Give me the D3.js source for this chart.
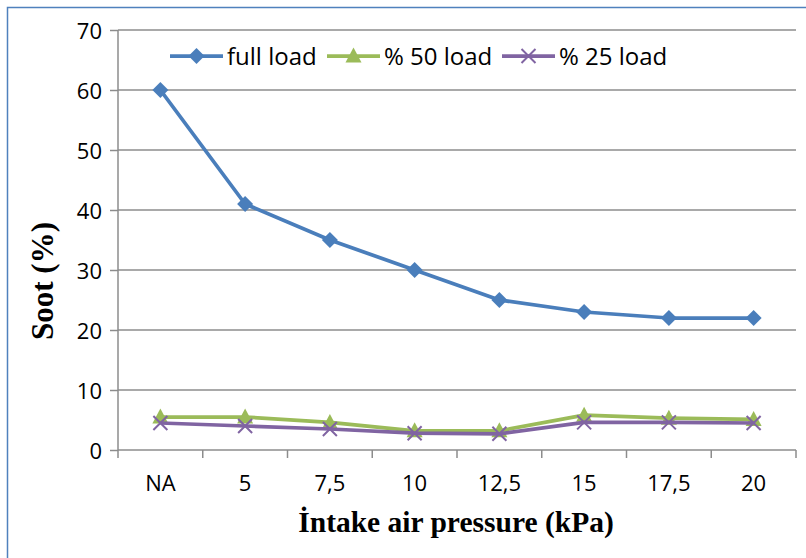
<!DOCTYPE html>
<html>
<head>
<meta charset="utf-8">
<script src="https://cdn.jsdelivr.net/npm/d3@7"></script>
<style>
  html, body { margin: 0; padding: 0; background: #fff; }
  svg { display: block; }
</style>
</head>
<body>
<svg id="chart" width="806" height="558"></svg>
<script>
// Intake air pressure categories and soot readings for each engine load
const categories = ["NA", "5", "7,5", "10", "12,5", "15", "17,5", "20"];
const fullLoad   = [60, 41, 35, 30, 25, 23, 22, 22];
const load50     = [5.5, 5.5, 4.6, 3.2, 3.2, 5.8, 5.3, 5.1];
const load25     = [4.5, 4.0, 3.5, 2.8, 2.7, 4.6, 4.6, 4.5];
const yTicks     = [0, 10, 20, 30, 40, 50, 60, 70];

const series = [
  { name: "full load", values: fullLoad, color: "#4a7ebb", marker: "diamond" },
  { name: "% 50 load", values: load50,   color: "#9bbb59", marker: "triangle" },
  { name: "% 25 load", values: load25,   color: "#8064a2", marker: "cross" }
];

const sans = "'Open Sans', 'Liberation Sans', sans-serif";
const serif = "'Liberation Serif', 'Times New Roman', serif";
const svg = d3.select("#chart");

// Frame around the chart area
svg.append("path")
  .attr("d", "M7.5,558 V7.5 H806")
  .attr("fill", "none")
  .attr("stroke", "#4f81bd")
  .attr("stroke-width", 1.5);

const x = d3.scaleBand().domain(categories).range([118, 796]);
const y = d3.scaleLinear().domain([0, 70]).range([450, 30]);

// Horizontal gridlines
svg.append("g").selectAll("line")
  .data(yTicks.filter(d => d > 0))
  .join("line")
  .attr("x1", 118).attr("x2", 796)
  .attr("y1", d => y(d)).attr("y2", d => y(d))
  .attr("stroke", "#8c8c8c").attr("stroke-width", 1.5);

// Y axis
const yAxis = svg.append("g")
  .attr("transform", "translate(118,0)")
  .call(d3.axisLeft(y).tickValues(yTicks).tickSize(8).tickPadding(8).tickFormat(d3.format("d")));
yAxis.selectAll("path, line").attr("stroke", "#8c8c8c").attr("stroke-width", 1.5);
yAxis.select(".domain").attr("d", "M0,450V30");
yAxis.selectAll("text")
  .attr("font-family", sans)
  .attr("font-size", 22).attr("fill", "#000").attr("dy", "0.4em");

// X axis with ticks at category boundaries
const xAxis = svg.append("g").attr("transform", "translate(0,450)");
xAxis.append("line").attr("x1", 118).attr("x2", 796)
  .attr("stroke", "#8c8c8c").attr("stroke-width", 1.5);
const bounds = categories.map(c => x(c)).concat([x.range()[1]]);
xAxis.selectAll(".tk").data(bounds).join("line")
  .attr("class", "tk")
  .attr("x1", d => d).attr("x2", d => d)
  .attr("y1", 0).attr("y2", 8)
  .attr("stroke", "#8c8c8c").attr("stroke-width", 1.5);
xAxis.selectAll("text").data(categories).join("text")
  .attr("x", d => x(d) + x.bandwidth() / 2)
  .attr("y", 41)
  .attr("text-anchor", "middle")
  .attr("font-family", sans)
  .attr("font-size", 22).attr("fill", "#000")
  .text(d => d);

// Axis titles
svg.append("text")
  .attr("x", 456).attr("y", 532)
  .attr("text-anchor", "middle")
  .attr("font-family", serif)
  .attr("font-weight", "bold").attr("font-size", 29.5)
  .text("İntake air pressure (kPa)");
svg.append("text")
  .attr("transform", "translate(53,281) rotate(-90)")
  .attr("text-anchor", "middle")
  .attr("font-family", serif)
  .attr("font-weight", "bold").attr("font-size", 31)
  .text("Soot (%)");

// Marker drawing helper
function drawMarker(g, type, color) {
  if (type === "diamond") {
    g.append("path").attr("d", "M0,-8L8,0L0,8L-8,0Z").attr("fill", color);
  } else if (type === "triangle") {
    g.append("path").attr("d", "M0,-8.5L8,6.5L-8,6.5Z").attr("fill", color);
  } else {
    g.append("path").attr("d", "M-7,-7L7,7M-7,7L7,-7")
      .attr("stroke", color).attr("stroke-width", 2).attr("fill", "none");
  }
}

const cx = c => x(c) + x.bandwidth() / 2;
const line = d3.line().x(d => cx(d.c)).y(d => y(d.v));

// Draw series, bottom to top so the 25% line sits above 50%
[series[1], series[2], series[0]].forEach(s => {
  const pts = s.values.map((v, i) => ({ c: categories[i], v }));
  svg.append("path").datum(pts)
    .attr("d", line)
    .attr("fill", "none")
    .attr("stroke", s.color)
    .attr("stroke-width", 3.75)
    .attr("stroke-linejoin", "round");
  pts.forEach(p => {
    const g = svg.append("g").attr("transform", `translate(${cx(p.c)},${y(p.v)})`);
    drawMarker(g, s.marker, s.color);
  });
});

// Legend
const legendX = [170, 327, 502];
series.forEach((s, i) => {
  const lg = svg.append("g").attr("transform", `translate(${legendX[i]},56)`);
  lg.append("line").attr("x1", 0).attr("x2", 53).attr("y1", 0).attr("y2", 0)
    .attr("stroke", s.color).attr("stroke-width", 3.75);
  const m = lg.append("g").attr("transform", "translate(26.5,0)");
  drawMarker(m, s.marker, s.color);
  lg.append("text").attr("x", 57).attr("y", 9)
    .attr("font-family", sans)
    .attr("font-size", 24).attr("fill", "#000")
    .text(s.name);
});
</script>
</body>
</html>
